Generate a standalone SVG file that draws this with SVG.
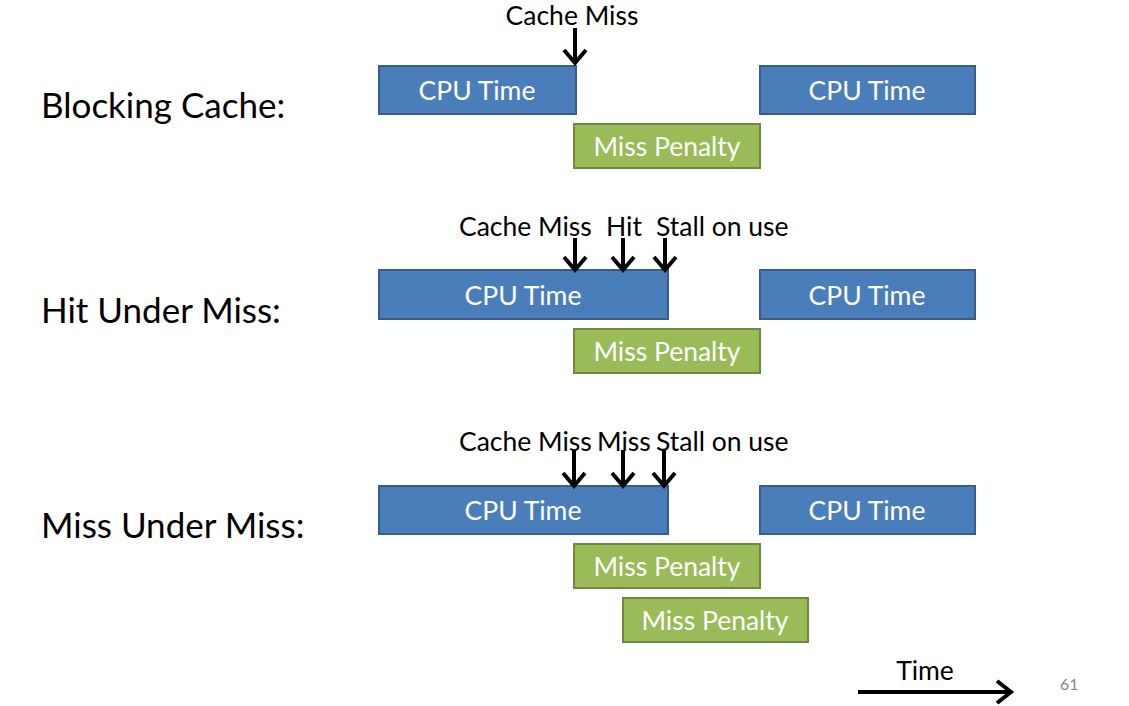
<svg xmlns="http://www.w3.org/2000/svg" width="1129" height="706" viewBox="0 0 1129 706">
<style>
.cpu{fill:#4A7EBB;stroke:#385D8A;stroke-width:2}
.mp{fill:#9BBB59;stroke:#71893F;stroke-width:2}
.bt{font-family:Lato,"Open Sans","Liberation Sans",sans-serif;font-size:26.5px;fill:#fff;text-anchor:middle}
.lbl{font-family:Lato,"Open Sans","Liberation Sans",sans-serif;font-size:35px;fill:#000}
.ev{font-family:Lato,"Open Sans","Liberation Sans",sans-serif;font-size:26.5px;fill:#000}
.arr{fill:none;stroke:#000;stroke-width:4;stroke-linecap:butt}
</style>
<rect width="1129" height="706" fill="#fff"/>
<g id="labels">
<text class="lbl" x="41" y="118">Blocking Cache:</text>
<text class="lbl" x="41" y="323">Hit Under Miss:</text>
<text class="lbl" x="41" y="538">Miss Under Miss:</text>
</g>
<g id="row1">
<g id="r1-cpu1"><rect class="cpu" x="379" y="66" width="197" height="48"/><text class="bt" x="477" y="100">CPU Time</text></g>
<g id="r1-cpu2"><rect class="cpu" x="760" y="66" width="215" height="48"/><text class="bt" x="867" y="100">CPU Time</text></g>
<g id="r1-mp"><rect class="mp" x="574" y="124" width="186" height="44"/><text class="bt" x="667" y="156">Miss Penalty</text></g>
<text class="ev" x="572" y="25" text-anchor="middle">Cache Miss</text>
</g>
<g id="row2">
<g id="r2-cpu1"><rect class="cpu" x="379" y="270" width="289" height="49"/><text class="bt" x="523" y="305">CPU Time</text></g>
<g id="r2-cpu2"><rect class="cpu" x="760" y="270" width="215" height="49"/><text class="bt" x="867" y="305">CPU Time</text></g>
<g id="r2-mp"><rect class="mp" x="574" y="329" width="186" height="44"/><text class="bt" x="667" y="361">Miss Penalty</text></g>
<text class="ev" x="459" y="236">Cache Miss</text>
<text class="ev" x="606" y="236">Hit</text>
<text class="ev" x="656" y="236">Stall on use</text>
</g>
<g id="row3">
<g id="r3-cpu1"><rect class="cpu" x="379" y="486" width="289" height="48"/><text class="bt" x="523" y="520">CPU Time</text></g>
<g id="r3-cpu2"><rect class="cpu" x="760" y="486" width="215" height="48"/><text class="bt" x="867" y="520">CPU Time</text></g>
<g id="r3-mp1"><rect class="mp" x="574" y="544" width="186" height="44"/><text class="bt" x="667" y="576">Miss Penalty</text></g>
<g id="r3-mp2"><rect class="mp" x="623" y="598" width="185" height="44"/><text class="bt" x="715" y="630">Miss Penalty</text></g>
<text class="ev" x="459" y="451">Cache Miss</text>
<text class="ev" x="597" y="451">Miss</text>
<text class="ev" x="656" y="451">Stall on use</text>
</g>
<g id="connectors">
<path class="arr" d="M575 28V63M564 50L575 63L586 50"/>
<path class="arr" d="M575 238V270M564 257L575 270L586 257"/>
<path class="arr" d="M623 238V270M612 257L623 270L634 257"/>
<path class="arr" d="M665 238V270M654 257L665 270L676 257"/>
<path class="arr" d="M574 450V486M563 473L574 486L585 473"/>
<path class="arr" d="M623 450V486M612 473L623 486L634 473"/>
<path class="arr" d="M664 450V486M653 473L664 486L675 473"/>
<path class="arr" d="M858 692H1010M997 681L1011 692L997 703"/>
</g>
<text class="ev" x="925" y="680" text-anchor="middle">Time</text>
<text x="1060" y="690" font-family="Lato,'Open Sans','Liberation Sans',sans-serif" font-size="16" fill="#888">61</text>
</svg>
